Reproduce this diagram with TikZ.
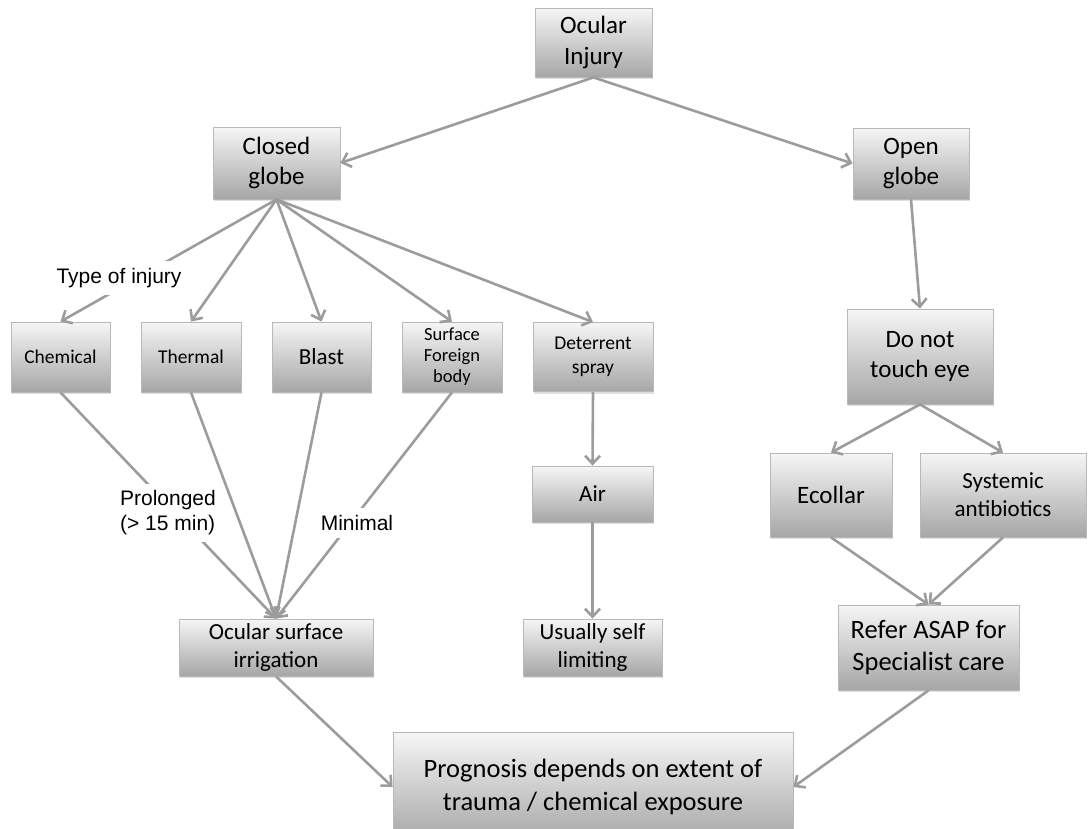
\documentclass[tikz,border=0pt]{standalone}
\usepackage{fontspec}
\setmainfont{Carlito}
\newfontfamily\labelfont{Liberation Sans}
\usetikzlibrary{arrows.meta,shadows}
\definecolor{boxtop}{HTML}{F6F6F6}
\definecolor{boxbot}{HTML}{A6A6A6}
\definecolor{boxline}{HTML}{B8B8B8}
\definecolor{edgegray}{HTML}{9C9C9C}
\begin{document}
\begin{tikzpicture}[x=1pt,y=-1pt,
  box/.style={draw=boxline, line width=0.8pt, top color=boxtop, bottom color=boxbot,
    drop shadow={opacity=0.25, shadow xshift=1pt, shadow yshift=-2pt},
    align=center, inner sep=1pt, text=black},
  fA/.style={font=\fontsize{25}{30.5}\selectfont},
  fB/.style={font=\fontsize{23}{28}\selectfont},
  fC/.style={font=\fontsize{19.5}{23.8}\selectfont},
  fD/.style={font=\fontsize{26.5}{32.3}\selectfont},
  arr/.style={draw=edgegray, line width=2.6pt, -{Straight Barb[length=8pt,width=15pt]}},
  ln/.style={draw=edgegray, line width=2.6pt},
  lab/.style={font=\labelfont\fontsize{21}{25}\selectfont, fill=white, align=left, inner sep=7pt}
]
\useasboundingbox (0,0) rectangle (1089,828);
\clip (0,0) rectangle (1089,828);
% nodes
\node[box, fA, minimum width=117, minimum height=69] (oi) at (593.5,42.5) {Ocular\\Injury};
\node[box, fA, minimum width=127, minimum height=72] (cg) at (276.5,163) {Closed\\globe};
\node[box, fA, minimum width=116, minimum height=71] (og) at (911,163.5) {Open\\globe};
\node[box, fC, minimum width=99, minimum height=70] (chem) at (60.5,357) {Chemical};
\node[box, fC, minimum width=100, minimum height=70] (therm) at (191,357) {Thermal};
\node[box, fB, minimum width=99, minimum height=70] (blast) at (321.5,357) {Blast};
\node[box, font=\fontsize{18.5}{21}\selectfont, minimum width=100, minimum height=70] (sfb) at (452,357) {Surface\\Foreign\\body};
\node[box, fC, minimum width=120, minimum height=69] (det) at (593,357) {Deterrent\\spray};
\node[box, fB, minimum width=121, minimum height=56] (air) at (592.5,494) {Air};
\node[box, fB, minimum width=139, minimum height=57] (usl) at (592.5,647.5) {Usually self\\limiting};
\node[box, fB, minimum width=194, minimum height=57] (irr) at (276,647.5) {Ocular surface\\irrigation};
\node[box, fA, minimum width=146, minimum height=95] (dnt) at (920,356.5) {Do not\\touch eye};
\node[box, fA, minimum width=122, minimum height=84] (eco) at (831,495) {Ecollar};
\node[box, fB, minimum width=166, minimum height=84] (sys) at (1003,495) {Systemic\\antibiotics};
\node[box, fD, minimum width=181, minimum height=85] (ref) at (928.5,647.5) {Refer ASAP for\\Specialist care};
\node[box, fD, minimum width=400, minimum height=110] (prog) at (593,787) {Prognosis depends on extent of\\trauma / chemical exposure};
% connectors
\draw[arr] (oi.south) -- (cg.east);
\draw[arr] (oi.south) -- (og.west);
\draw[arr] (cg.south) -- (chem.north);
\draw[arr] (cg.south) -- (therm.north);
\draw[arr] (cg.south) -- (blast.north);
\draw[arr] (cg.south) -- (sfb.north);
\draw[arr] (cg.south) -- (det.north);
\draw[arr] (det.south) -- (air.north);
\draw[arr] (air.south) -- (usl.north);
\draw[arr] (chem.south) -- (irr.north);
\draw[arr] (therm.south) -- (irr.north);
\draw[arr] (blast.south) -- (irr.north);
\draw[arr] (sfb.south) -- (irr.north);
\draw[arr] (irr.south) -- (prog.west);
\draw[arr] (og.south) -- (dnt.north);
\draw[arr] (dnt.south) -- (eco.north);
\draw[arr] (dnt.south) -- (sys.north);
\draw[arr] (eco.south) -- (ref.north);
\draw[arr] (sys.south) -- (ref.north);
\draw[arr] (ref.south) -- (prog.east);
% labels
\node[lab] (ltype) at (119,278) {Type of injury};
\node[lab] (lprol) at (168,513) {Prolonged\\(> 15 min)};
\node[lab] (lmin) at (357,523) {Minimal};
\end{tikzpicture}
\end{document}
